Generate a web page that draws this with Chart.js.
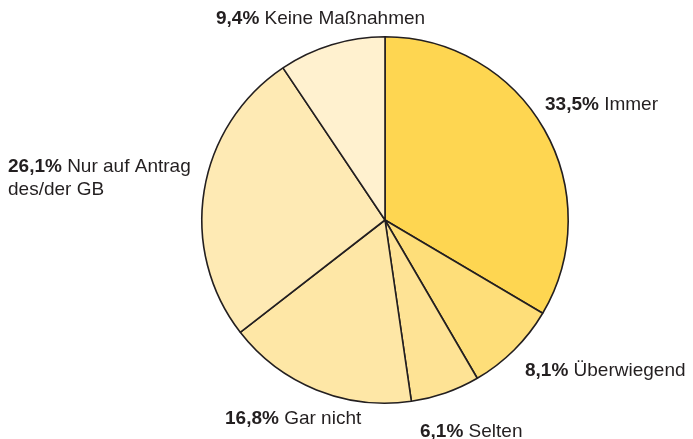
<!DOCTYPE html>
<html lang="de">
<head>
<meta charset="UTF-8">
<title>Maßnahmen</title>
<style>
  html, body { margin: 0; padding: 0; background: #fff; }
  #wrap { width: 693px; height: 439px; }
</style>
</head>
<body>
<div id="wrap"><canvas id="myChart" width="693" height="439"></canvas></div>
<script src="https://cdn.jsdelivr.net/npm/chart.js"></script>
<script>
var kategorien = ["Immer", "Überwiegend", "Selten", "Gar nicht", "Nur auf Antrag|des/der GB", "Keine Maßnahmen"];
var anteile = [33.5, 8.1, 6.1, 16.8, 26.1, 9.4];
var farben = ["#fed651", "#fede79", "#fee395", "#fee7a6", "#feeab4", "#fff1cf"];

// label anchor (left x, baseline y of first line)
var labelPos = [[545, 110], [525, 376], [420, 437], [225, 424], [8, 172], [216, 24]];

var labelPlugin = {
  id: 'labels',
  afterDraw: function (chart) {
    var ctx = chart.ctx;
    ctx.save();
    ctx.fillStyle = '#231f20';
    ctx.textBaseline = 'alphabetic';
    ctx.textAlign = 'left';
    chart.data.labels.forEach(function (lab, i) {
      var p = labelPos[i];
      var pct = chart.data.datasets[0].data[i].toFixed(1).replace('.', ',') + '%';
      var lines = lab.split('|');
      ctx.font = 'bold 19px "Liberation Sans", Arial, sans-serif';
      ctx.fillText(pct, p[0], p[1]);
      var w = ctx.measureText(pct + ' ').width;
      ctx.font = '19px "Liberation Sans", Arial, sans-serif';
      ctx.fillText(lines[0], p[0] + w, p[1]);
      for (var k = 1; k < lines.length; k++) {
        ctx.fillText(lines[k], p[0], p[1] + 23 * k);
      }
    });
    ctx.restore();
  }
};

var chrt = document.getElementById("myChart").getContext("2d");
new Chart(chrt, {
  type: 'pie',
  data: {
    labels: kategorien,
    datasets: [{
      data: anteile,
      backgroundColor: farben,
      borderColor: '#231f20',
      borderWidth: 1.6
    }]
  },
  options: {
    responsive: false,
    animation: false,
    layout: { padding: { left: 201, right: 124, top: 36, bottom: 35 } },
    plugins: {
      legend: { display: false },
      tooltip: { enabled: false }
    }
  },
  plugins: [labelPlugin]
});
</script>
</body>
</html>
